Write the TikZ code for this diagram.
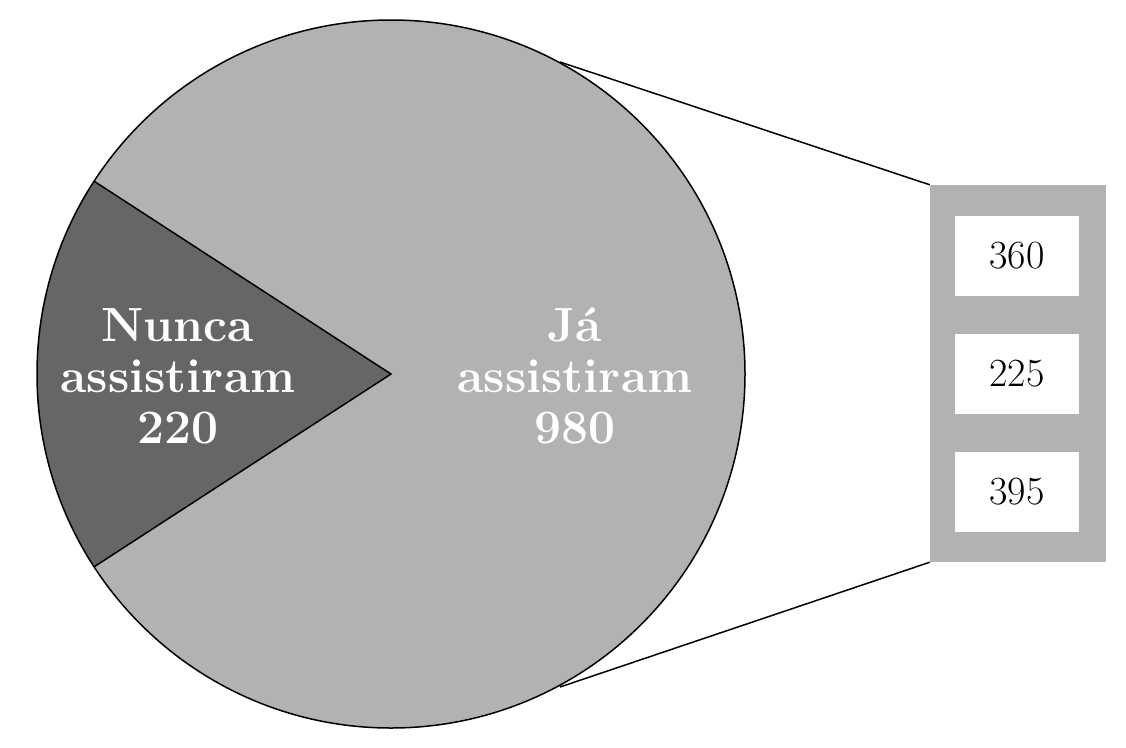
\documentclass[tikz,border=0pt]{standalone}
\usetikzlibrary{calc}
\begin{document}
\begin{tikzpicture}[x=1pt,y=-1pt,
  lbl/.style={text=white,font=\fontsize{48}{51}\selectfont\bfseries,align=center},
  num/.style={fill=white,minimum width=124pt,minimum height=80pt,inner sep=0pt,font=\fontsize{40}{48}\selectfont},
  edge/.style={line width=1.5pt}]
\useasboundingbox (0,0) rectangle (1126,747);
\coordinate (c) at (391,374);
\fill[black!30] (c) circle (354);
\fill[black!60] (c) -- ++(147:354) arc[start angle=147,end angle=213,radius=354] -- cycle;
\draw[edge] ($(c)+(147:354)$) -- (c) -- ($(c)+(213:354)$);
\draw[edge] (c) circle (354);
\node[lbl] (n) at (178,376) {Nunca\\assistiram\\220};
\node[lbl] (j) at (575,376) {Já\\assistiram\\980};
\node[fill=black!30,minimum width=176pt,minimum height=377pt,inner sep=0pt] (box) at (1018,373.5) {};
\node[num] (a) at (1017,255.5) {360};
\node[num] (b) at (1017,374) {225};
\node[num] (d) at (1017,492) {395};
\coordinate (t) at (560,62);
\coordinate (u) at (560,687);
\draw[edge] (t) -- (box.north west);
\draw[edge] (u) -- (box.south west);
\end{tikzpicture}
\end{document}
